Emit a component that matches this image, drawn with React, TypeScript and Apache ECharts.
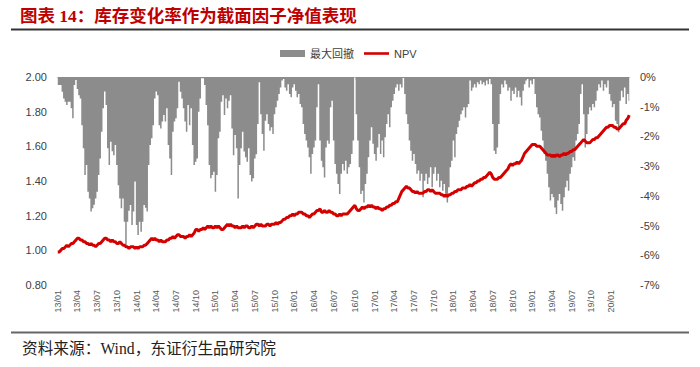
import React, { useEffect, useRef } from 'react';
import * as echarts from 'echarts';

// Weekly NPV (left axis), from 2013-01-04, one value per Friday
const npv: number[] = [
  0.99, 0.99, 1.00, 1.01, 1.01, 1.02, 1.03, 1.02, 1.03, 1.04,
  1.04, 1.05, 1.06, 1.07, 1.07, 1.06, 1.06, 1.05, 1.05, 1.04,
  1.04, 1.03, 1.04, 1.03, 1.03, 1.02, 1.03, 1.04, 1.04, 1.05,
  1.06, 1.07, 1.07, 1.06, 1.06, 1.05, 1.06, 1.05, 1.05, 1.04,
  1.04, 1.05, 1.04, 1.03, 1.03, 1.02, 1.02, 1.01, 1.02, 1.02,
  1.02, 1.01, 1.02, 1.01, 1.02, 1.02, 1.02, 1.03, 1.03, 1.04,
  1.05, 1.06, 1.07, 1.06, 1.07, 1.06, 1.06, 1.05, 1.06, 1.05,
  1.05, 1.05, 1.06, 1.06, 1.07, 1.07, 1.08, 1.07, 1.08, 1.09,
  1.09, 1.08, 1.08, 1.08, 1.07, 1.08, 1.08, 1.09, 1.08, 1.09,
  1.10, 1.12, 1.12, 1.11, 1.12, 1.12, 1.13, 1.12, 1.13, 1.14,
  1.13, 1.14, 1.13, 1.13, 1.14, 1.13, 1.14, 1.13, 1.12, 1.12,
  1.13, 1.14, 1.15, 1.14, 1.15, 1.14, 1.14, 1.13, 1.14, 1.13,
  1.13, 1.13, 1.14, 1.13, 1.14, 1.14, 1.13, 1.13, 1.14, 1.13,
  1.14, 1.15, 1.15, 1.14, 1.15, 1.14, 1.14, 1.14, 1.15, 1.15,
  1.14, 1.15, 1.15, 1.15, 1.16, 1.15, 1.16, 1.16, 1.17, 1.18,
  1.18, 1.19, 1.19, 1.20, 1.20, 1.21, 1.20, 1.21, 1.21, 1.22,
  1.22, 1.22, 1.21, 1.21, 1.20, 1.20, 1.19, 1.20, 1.21, 1.21,
  1.22, 1.23, 1.23, 1.24, 1.22, 1.22, 1.23, 1.22, 1.22, 1.23,
  1.22, 1.22, 1.21, 1.21, 1.20, 1.20, 1.21, 1.20, 1.21, 1.21,
  1.21, 1.21, 1.22, 1.23, 1.24, 1.25, 1.26, 1.24, 1.23, 1.23,
  1.24, 1.25, 1.24, 1.25, 1.25, 1.26, 1.25, 1.26, 1.25, 1.25,
  1.24, 1.25, 1.24, 1.24, 1.23, 1.24, 1.24, 1.25, 1.25, 1.26,
  1.26, 1.27, 1.27, 1.28, 1.28, 1.30, 1.32, 1.34, 1.35, 1.36,
  1.37, 1.36, 1.36, 1.35, 1.34, 1.34, 1.33, 1.34, 1.33, 1.33,
  1.33, 1.33, 1.34, 1.34, 1.35, 1.35, 1.34, 1.35, 1.34, 1.33,
  1.33, 1.33, 1.33, 1.32, 1.32, 1.31, 1.32, 1.31, 1.32, 1.32,
  1.33, 1.33, 1.34, 1.34, 1.35, 1.35, 1.35, 1.36, 1.36, 1.36,
  1.37, 1.37, 1.38, 1.37, 1.38, 1.39, 1.39, 1.40, 1.40, 1.41,
  1.41, 1.42, 1.42, 1.43, 1.44, 1.45, 1.44, 1.42, 1.41, 1.41,
  1.41, 1.42, 1.42, 1.43, 1.44, 1.45, 1.46, 1.47, 1.49, 1.50,
  1.49, 1.50, 1.50, 1.51, 1.50, 1.51, 1.52, 1.54, 1.56, 1.57,
  1.58, 1.59, 1.60, 1.61, 1.61, 1.61, 1.60, 1.60, 1.60, 1.59,
  1.58, 1.57, 1.56, 1.55, 1.55, 1.55, 1.54, 1.55, 1.54, 1.55,
  1.55, 1.54, 1.55, 1.55, 1.56, 1.55, 1.56, 1.56, 1.57, 1.57,
  1.58, 1.58, 1.59, 1.60, 1.61, 1.62, 1.63, 1.64, 1.63, 1.62,
  1.62, 1.62, 1.63, 1.64, 1.64, 1.65, 1.65, 1.66, 1.67, 1.68,
  1.69, 1.70, 1.71, 1.71, 1.72, 1.72, 1.72, 1.71, 1.71, 1.70,
  1.70, 1.71, 1.72, 1.73, 1.73, 1.75, 1.76, 1.78,
];

// Weekly maximum drawdown in % (right axis)
const drawdown: number[] = [
  -0.27, -0.27, -0.27, -0.50, -0.72, -0.83, -0.94, -0.83, -0.83, -1.05,
  -1.39, -0.27, -0.10, -0.40, -0.61, -0.72, -1.62, -2.40, -3.30, -2.96,
  -3.86, -4.09, -4.53, -4.42, -4.30, -4.09, -3.86, -3.30, -2.74, -1.84,
  -1.05, -0.49, -0.94, -2.40, -2.96, -2.18, -2.50, -2.63, -2.29, -2.96,
  -3.64, -4.09, -4.42, -4.09, -4.87, -5.65, -4.87, -4.50, -4.31, -4.98,
  -4.53, -3.52, -4.98, -5.32, -4.87, -5.21, -4.87, -4.31, -4.40, -4.53,
  -2.96, -2.29, -2.06, -1.62, -0.72, -0.49, -0.61, -1.62, -1.73, -1.50,
  -1.28, -1.50, -1.05, -2.29, -2.74, -3.30, -1.84, -1.50, -1.39, -1.05,
  -0.16, -0.50, -0.72, -1.05, -1.50, -1.84, -0.94, -1.62, -1.05, -2.29,
  -2.96, -2.85, -2.74, -1.17, -0.72, -0.04, -0.04, -0.27, -0.94, -1.62,
  -2.96, -3.41, -3.30, -3.19, -3.86, -3.30, -2.06, -1.84, -0.83, -0.61,
  -1.28, -0.72, -1.05, -0.80, -0.61, -1.73, -2.63, -1.95, -2.40, -4.09,
  -2.96, -2.40, -1.84, -2.51, -2.70, -2.85, -2.40, -3.30, -3.52, -3.41,
  -2.74, -2.60, -1.58, -0.18, -1.25, -1.92, -2.48, -1.47, -1.25, -1.58,
  -1.81, -1.69, -1.92, -1.25, -1.02, -0.80, -0.57, -0.35, -0.12, -0.07,
  -0.35, -0.46, -0.24, -0.57, -0.68, -0.35, -0.24, -0.46, -0.68, -0.57,
  -0.91, -1.02, -1.58, -1.92, -2.14, -2.37, -2.70, -3.26, -2.59, -2.37,
  -2.14, -1.02, -0.24, -2.14, -2.82, -3.04, -3.38, -2.37, -2.14, -2.25,
  -1.02, -0.80, -2.14, -2.93, -3.26, -3.60, -3.94, -3.26, -2.93, -3.15,
  -2.82, -3.26, -3.04, -2.93, -2.59, -2.14, -0.01, -1.25, -2.14, -3.04,
  -3.94, -3.83, -4.22, -3.60, -3.26, -2.70, -2.14, -1.69, -2.25, -2.59,
  -2.82, -2.37, -1.92, -2.59, -2.14, -2.70, -2.03, -1.58, -1.25, -1.69,
  -1.02, -0.80, -0.57, -0.35, -0.24, -0.46, -0.24, -0.35, -0.03, -0.57,
  -1.25, -1.58, -2.14, -2.48, -2.82, -2.59, -2.93, -3.26, -3.15, -3.49,
  -3.26, -4.05, -3.49, -3.26, -3.60, -3.38, -3.04, -3.71, -3.26, -3.04,
  -3.49, -3.26, -3.71, -3.49, -3.83, -3.60, -3.94, -4.22, -3.71, -3.04,
  -2.82, -2.14, -2.70, -1.92, -1.69, -1.47, -1.25, -1.13, -1.02, -1.36,
  -1.02, -0.91, -0.12, -0.46, -0.35, -0.24, -0.35, -0.18, -0.24, -0.12,
  -0.24, -0.18, -0.29, -0.12, -0.24, -0.07, -0.24, -1.58, -2.48, -2.59,
  -2.37, -1.58, -0.57, -0.24, -0.35, -0.12, -0.24, -0.46, -0.35, -0.80,
  -0.46, -0.57, -0.35, -0.68, -0.46, -0.68, -0.96, -0.46, -0.24, -0.12,
  -0.07, -0.35, -0.12, -0.24, -0.07, -0.57, -1.02, -1.25, -1.36, -1.81,
  -2.14, -2.59, -2.82, -3.26, -3.71, -4.16, -3.94, -4.05, -4.39, -4.61,
  -4.16, -3.94, -4.27, -4.50, -4.05, -3.71, -3.49, -3.83, -3.26, -3.04,
  -2.70, -2.82, -2.14, -1.92, -1.58, -0.57, -0.24, -1.25, -2.37, -1.92,
  -1.25, -1.02, -1.13, -0.91, -1.02, -0.80, -0.46, -0.24, -0.35, -0.12,
  -0.46, -0.24, -0.35, -0.12, -0.57, -0.80, -1.02, -0.91, -1.47, -1.58,
  -1.86, -0.80, -0.46, -0.68, -0.35, -0.91, -0.57, -0.80,
];

const seriesNames: string[] = ['最大回撤', 'NPV'];
const quarterMonths: number[] = [1, 4, 7, 10];
const titleText = '图表 14：库存变化率作为截面因子净值表现';
const sourceText = '资料来源：Wind，东证衍生品研究院';

function buildWeeks(n: number): string[] {
  const out: string[] = [];
  const t0 = Date.UTC(2013, 0, 4);
  for (let i = 0; i < n; i++) {
    const d = new Date(t0 + i * 7 * 86400000);
    const m = String(d.getUTCMonth() + 1).padStart(2, '0');
    const dd = String(d.getUTCDate()).padStart(2, '0');
    out.push(`${d.getUTCFullYear()}-${m}-${dd}`);
  }
  return out;
}

export default function App() {
  const ref = useRef<HTMLDivElement>(null);

  useEffect(() => {
    document.body.style.margin = '0';
    if (!ref.current) return;
    const chart = echarts.init(ref.current, undefined, { renderer: 'svg' });
    const weeks = buildWeeks(npv.length);
    const monthOf = (s: string) => parseInt(s.slice(5, 7), 10);
    const showIdx = (idx: number) => {
      const m = monthOf(weeks[idx]);
      if (quarterMonths.indexOf(m) < 0) return false;
      return idx === 0 || monthOf(weeks[idx - 1]) !== m;
    };
    const sansFont = '"Liberation Sans", Arial, "Noto Sans CJK SC", sans-serif';
    const gray = '#8c8c8c';

    chart.setOption({
      animation: false,
      legend: {
        left: 280,
        top: 48,
        padding: 0,
        itemWidth: 25,
        itemHeight: 7,
        itemGap: 10,
        textStyle: { fontSize: 11, color: '#404040', fontFamily: sansFont },
        data: [
          { name: seriesNames[0], icon: 'rect', itemStyle: { color: gray } },
          { name: seriesNames[1], icon: 'path://M0,0 L25,0 L25,2.6 L0,2.6 Z' },
        ],
      },
      grid: { left: 57, right: 70, top: 77, bottom: 82 },
      xAxis: {
        type: 'category',
        data: weeks,
        boundaryGap: true,
        axisLine: { show: true, lineStyle: { color: '#d9d9d9', width: 1 } },
        axisTick: {
          show: true,
          alignWithLabel: true,
          interval: (idx: number) => showIdx(idx),
          length: 3,
          lineStyle: { color: '#d9d9d9' },
        },
        axisLabel: {
          interval: (idx: number) => showIdx(idx),
          rotate: 90,
          fontSize: 9,
          color: '#595959',
          fontFamily: sansFont,
          margin: 5,
          hideOverlap: false,
          formatter: (v: string) => `${v.slice(2, 4)}/${v.slice(5, 7)}`,
        },
      },
      yAxis: [
        {
          type: 'value',
          min: 0.8,
          max: 2.0,
          interval: 0.2,
          position: 'left',
          splitLine: { show: false },
          axisLine: { show: false },
          axisTick: { show: false },
          axisLabel: {
            fontSize: 11,
            color: '#404040',
            fontFamily: sansFont,
            margin: 10,
            formatter: (v: number) => v.toFixed(2),
          },
        },
        {
          type: 'value',
          min: -7,
          max: 0,
          interval: 1,
          position: 'right',
          splitLine: { show: false },
          axisLine: { show: false },
          axisTick: { show: false },
          axisLabel: {
            fontSize: 11,
            color: '#404040',
            fontFamily: sansFont,
            margin: 10,
            formatter: (v: number) => `${v}%`,
          },
        },
      ],
      series: [
        {
          name: seriesNames[0],
          type: 'line',
          yAxisIndex: 1,
          data: drawdown,
          step: 'middle',
          symbol: 'none',
          showSymbol: false,
          color: gray,
          lineStyle: { width: 0, color: gray },
          itemStyle: { color: gray },
          areaStyle: { color: gray, opacity: 1, origin: 0 },
          z: 2,
        },
        {
          name: seriesNames[1],
          type: 'line',
          yAxisIndex: 0,
          data: npv,
          symbol: 'none',
          showSymbol: false,
          lineStyle: { color: '#d40000', width: 3 },
          itemStyle: { color: '#d40000' },
          z: 5,
        },
      ],
      graphic: [
        {
          type: 'text',
          x: 20,
          y: 16,
          style: {
            text: titleText,
            fill: '#c00000',
            font: 'bold 17.5px "Liberation Serif", "Noto Sans CJK SC", serif',
            verticalAlign: 'middle',
          },
        },
        {
          type: 'line',
          shape: { x1: 11, y1: 29.5, x2: 689, y2: 29.5 },
          style: { stroke: '#333333', lineWidth: 2 },
        },
        {
          type: 'line',
          shape: { x1: 11, y1: 332.5, x2: 689, y2: 332.5 },
          style: { stroke: '#666666', lineWidth: 2 },
        },
        {
          type: 'text',
          x: 22,
          y: 348,
          style: {
            text: sourceText,
            fill: '#222222',
            font: '15.7px "Liberation Serif", "Noto Sans CJK SC", serif',
            verticalAlign: 'middle',
          },
        },
      ],
    });

    return () => {
      chart.dispose();
    };
  }, []);

  return <div ref={ref} style={{ width: 700, height: 367 }} />;
}
